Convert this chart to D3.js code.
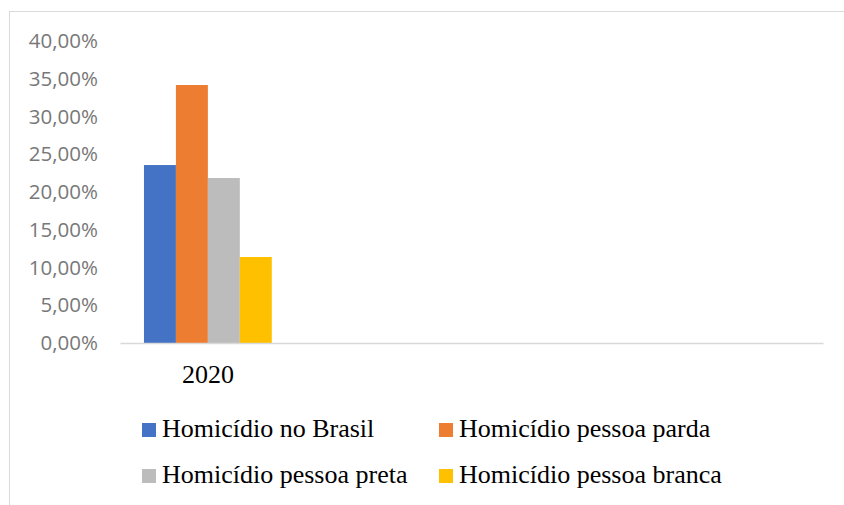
<!DOCTYPE html>
<html>
<head>
<meta charset="UTF-8">
<script src="https://d3js.org/d3.v7.min.js"></script>
<style>
  body { margin: 0; background: #fff; }
</style>
</head>
<body>
<div id="my_dataviz"></div>
<script>

// data
var categories = ["2020", "", "", ""];
var seriesNames = ["Homicídio no Brasil", "Homicídio pessoa parda", "Homicídio pessoa preta", "Homicídio pessoa branca"];
var seriesColors = ["#4472c4", "#ed7d31", "#bcbcbc", "#ffc000"];
var values2020 = [0.2357, 0.3417, 0.2185, 0.1139];
var yTicks = [0, 0.05, 0.10, 0.15, 0.20, 0.25, 0.30, 0.35, 0.40];

var W = 844, H = 505;
var margin = {top: 41, right: 21, bottom: 162, left: 120};
var width = W - margin.left - margin.right,
    height = H - margin.top - margin.bottom;

var svg = d3.select("#my_dataviz")
  .append("svg")
    .attr("width", W)
    .attr("height", H);

// chart border (right/bottom edges run off the picture)
svg.append("rect")
  .attr("x", 9.5).attr("y", 11.5)
  .attr("width", W + 20).attr("height", H + 20)
  .attr("fill", "none")
  .attr("stroke", "#d9d9d9");

var g = svg.append("g")
  .attr("transform", "translate(" + margin.left + "," + margin.top + ")");

// x scale: one band per category slot
var x = d3.scaleBand()
  .domain(d3.range(categories.length))
  .range([0, width])
  .paddingInner(0)
  .paddingOuter(0);

var xSub = d3.scaleBand()
  .domain(d3.range(seriesNames.length))
  .range([0, x.bandwidth()])
  .paddingOuter(0.75)
  .paddingInner(0);

var y = d3.scaleLinear()
  .domain([0, 0.40])
  .range([height, 0]);

// y axis labels
var fmt = function(v) { return (v * 100).toFixed(2).replace(".", ",") + "%"; };
var yAxis = g.append("g")
  .call(d3.axisLeft(y).tickValues(yTicks).tickFormat(fmt).tickSize(0).tickPadding(22));
yAxis.select(".domain").remove();
yAxis.selectAll("text")
  .style("font-family", "'Open Sans'")
  .style("font-size", "20.5px")
  .style("fill", "#787878");

// bars
var data = values2020.map(function(v, i) { return {cat: 0, s: i, value: v}; });
g.selectAll(".bar")
  .data(data)
  .enter()
  .append("rect")
    .attr("class", "bar")
    .attr("x", function(d) { return x(d.cat) + xSub(d.s); })
    .attr("y", function(d) { return y(d.value); })
    .attr("width", xSub.bandwidth())
    .attr("height", function(d) { return height - y(d.value); })
    .style("fill", function(d) { return seriesColors[d.s]; });

// x axis
var xAxis = g.append("g")
  .attr("transform", "translate(0," + height + ")")
  .call(d3.axisBottom(x).tickFormat(function(i) { return categories[i]; }).tickSize(0));
xAxis.select(".domain")
  .attr("stroke", "#d9d9d9")
  .attr("stroke-width", 1.5);
xAxis.selectAll("text")
  .attr("y", 40)
  .attr("dy", null)
  .style("font-family", "'Liberation Serif'")
  .style("font-size", "26px")
  .style("fill", "#000");

// legend
var legendPos = [[142, 423], [439, 423], [142, 469], [439, 469]];
var legend = svg.selectAll(".legend")
  .data(seriesNames)
  .enter()
  .append("g")
    .attr("class", "legend")
    .attr("transform", function(d, i) { return "translate(" + legendPos[i][0] + "," + legendPos[i][1] + ")"; });

legend.append("rect")
  .attr("x", 0).attr("y", 0)
  .attr("width", 14).attr("height", 14)
  .style("fill", function(d, i) { return seriesColors[i]; });

legend.append("text")
  .attr("x", 20)
  .attr("y", 14)
  .style("font-family", "'Liberation Serif'")
  .style("font-size", "26px")
  .style("fill", "#000")
  .text(function(d) { return d; });

</script>
</body>
</html>
